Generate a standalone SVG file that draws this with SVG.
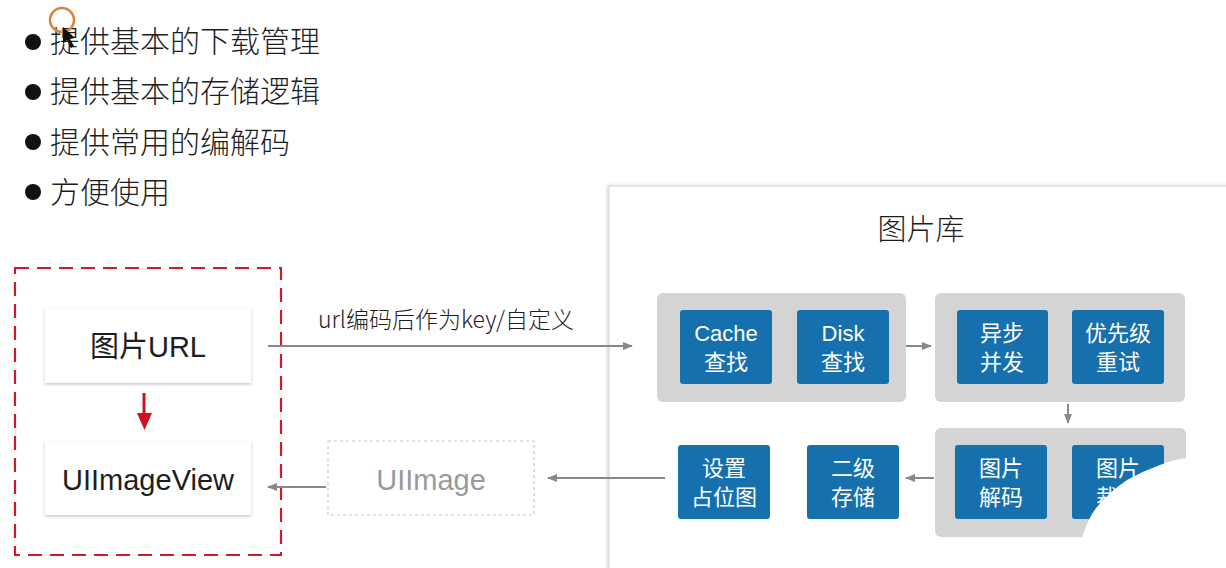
<svg xmlns="http://www.w3.org/2000/svg" width="1226" height="568" viewBox="0 0 1226 568">
<defs>
<filter id="sh" x="-10%" y="-10%" width="120%" height="130%">
<feDropShadow dx="0" dy="1.5" stdDeviation="1.5" flood-color="#000" flood-opacity="0.22"/>
</filter>
<filter id="psh" x="-5%" y="-5%" width="110%" height="110%">
<feDropShadow dx="-1" dy="0" stdDeviation="1.5" flood-color="#000" flood-opacity="0.18"/>
</filter>
<marker id="ag" markerWidth="10" markerHeight="10" refX="9" refY="5" orient="auto" markerUnits="userSpaceOnUse">
<path d="M0,1 L10,5 L0,9 Z" fill="#888"/>
</marker>
</defs>
<style>
.t{font-family:"Noto Sans CJK SC","Liberation Sans",sans-serif;}
.bul{font-size:30px;fill:#1e1e1e;font-weight:300;}
.big{font-size:29px;fill:#1e1e1e;text-anchor:middle;font-family:"Liberation Sans","Noto Sans CJK SC",sans-serif;}
.grp{fill:#d4d4d4;}
.blue{fill:#1570ad;}
.wt{font-size:22px;fill:#fff;text-anchor:middle;font-family:"Liberation Sans","Noto Sans CJK SC",sans-serif;}
.wbox{fill:#fff;filter:url(#sh);}
.cn{stroke:#888;stroke-width:2;fill:none;marker-end:url(#ag);}
</style>
<rect width="1226" height="568" fill="#fff"/>

<g id="bullets">
<circle cx="33" cy="42" r="8" fill="#111"/>
<text class="t bul" x="50" y="52">提供基本的下载管理</text>
<circle cx="33" cy="92" r="8" fill="#111"/>
<text class="t bul" x="50" y="102">提供基本的存储逻辑</text>
<circle cx="33" cy="142" r="8" fill="#111"/>
<text class="t bul" x="50" y="153">提供常用的编解码</text>
<circle cx="33" cy="192" r="8" fill="#111"/>
<text class="t bul" x="50" y="203">方便使用</text>
</g>
<g id="cursor">
<circle cx="62" cy="20" r="12" fill="none" stroke="#d9843a" stroke-width="2.5"/>
<path d="M63,27 L63,44 L67,40 L71,48 L74,46 L70,39 L75,38 Z" fill="#111"/>
</g>

<g id="panel">
<rect x="609" y="186" width="640" height="400" fill="#fff" stroke="#e0e0e0" stroke-width="1.5" filter="url(#psh)"/>
<text class="t" x="921" y="240" font-size="29" font-weight="300" fill="#1e1e1e" text-anchor="middle">图片库</text>
</g>

<g id="left-box">
<rect x="15" y="268" width="266" height="287" fill="none" stroke="#cc1b2a" stroke-width="2.2" stroke-dasharray="14,8"/>
</g>
<g id="node-url">
<rect class="wbox" x="45" y="309" width="206" height="74"/>
<text class="big" x="148" y="357">图片URL</text>
</g>
<g id="node-uiimageview">
<rect class="wbox" x="45" y="441" width="206" height="74"/>
<text class="big" x="148" y="490">UIImageView</text>
</g>
<g id="node-uiimage">
<rect x="328" y="441" width="206" height="74" fill="#fff" stroke="#c8c8c8" stroke-width="1.2" stroke-dasharray="3,3"/>
<text class="big" x="431" y="490" style="fill:#9a9a9a">UIImage</text>
</g>

<g id="group-lookup">
<rect class="grp" x="657" y="293" width="249" height="109" rx="6"/>
<rect class="blue" x="680" y="310" width="92" height="74" rx="3"/>
<text class="wt" x="726" y="341">Cache</text>
<text class="wt" x="726" y="370">查找</text>
<rect class="blue" x="797" y="310" width="92" height="74" rx="3"/>
<text class="wt" x="843" y="341">Disk</text>
<text class="wt" x="843" y="370">查找</text>
</g>
<g id="group-download">
<rect class="grp" x="935" y="293" width="250" height="109" rx="6"/>
<rect class="blue" x="957" y="310" width="91" height="74" rx="3"/>
<text class="wt" x="1002" y="341">异步</text>
<text class="wt" x="1002" y="370">并发</text>
<rect class="blue" x="1072" y="310" width="92" height="74" rx="3"/>
<text class="wt" x="1118" y="341">优先级</text>
<text class="wt" x="1118" y="370">重试</text>
</g>
<g id="group-decode">
<rect class="grp" x="935" y="428" width="251" height="109" rx="6"/>
<rect class="blue" x="955" y="445" width="92" height="74" rx="3"/>
<text class="wt" x="1001" y="476">图片</text>
<text class="wt" x="1001" y="505">解码</text>
<rect class="blue" x="1072" y="445" width="92" height="74" rx="3"/>
<text class="wt" x="1118" y="476">图片</text>
<text class="wt" x="1118" y="505">裁剪</text>
</g>
<g id="node-store">
<rect class="blue" x="807" y="445" width="92" height="74" rx="3"/>
<text class="wt" x="853" y="476">二级</text>
<text class="wt" x="853" y="505">存储</text>
</g>
<g id="node-placeholder">
<rect class="blue" x="678" y="445" width="92" height="74" rx="3"/>
<text class="wt" x="724" y="476">设置</text>
<text class="wt" x="724" y="505">占位图</text>
</g>

<g id="connectors">
<line class="cn" x1="268" y1="346" x2="632" y2="346"/>
<text class="t" x="446" y="328" font-size="23" font-weight="300" fill="#1e1e1e" text-anchor="middle">url编码后作为key/自定义</text>
<line class="cn" x1="906" y1="346" x2="931" y2="346"/>
<line class="cn" x1="1068" y1="404" x2="1068" y2="423"/>
<line class="cn" x1="934" y1="478" x2="906" y2="478"/>
<line class="cn" x1="665" y1="478" x2="548" y2="478"/>
<line class="cn" x1="326" y1="487" x2="268" y2="487"/>
<line x1="144" y1="393" x2="144" y2="415" stroke="#d0101c" stroke-width="3"/>
<path d="M137,413 L152,413 L144.5,430 Z" fill="#d0101c"/>
</g>

<path id="blob" d="M1078,568 L1083,535 Q1089,516 1097,507 Q1108,493 1127,480 Q1143,471 1160,465 Q1172,460 1186,458 L1226,455 L1226,568 Z" fill="#fff"/>
</svg>
